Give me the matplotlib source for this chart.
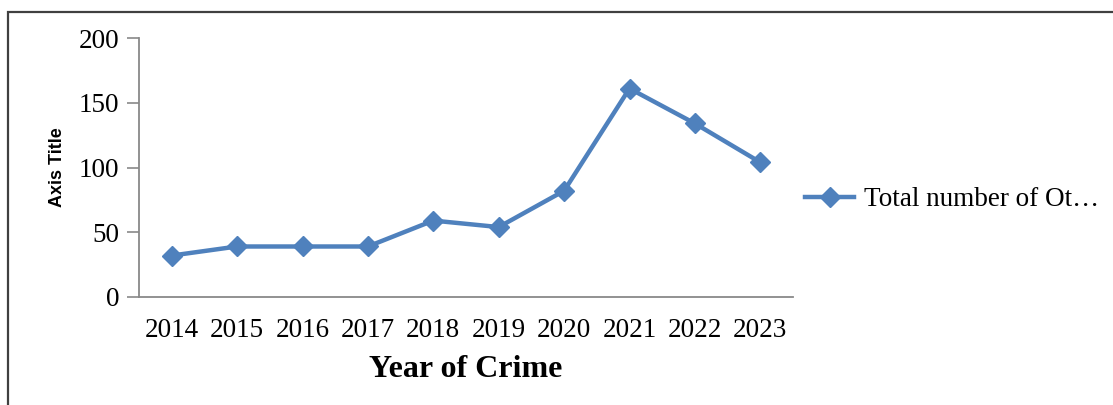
import matplotlib.pyplot as plt
from matplotlib.patches import Rectangle

years = ['2014', '2015', '2016', '2017', '2018', '2019', '2020', '2021', '2022', '2023']
totals = [32, 39, 39, 39, 59, 54, 82, 161, 134, 104]
series_name = 'Total number of Ot\u2026'
yticks = [0, 50, 100, 150, 200]

blue = '#4F81BD'
grey = '#898989'
serif = ['Liberation Serif', 'DejaVu Serif']

fig = plt.figure(figsize=(11.13, 4.05), dpi=100)
ax = fig.add_axes([139 / 1113, 1 - 297 / 405, 654 / 1113, 259 / 405])

x = list(range(len(years)))
ax.plot(x, totals, color=blue, lw=3.2, marker='D', ms=10.5,
        markerfacecolor=blue, markeredgecolor=blue)

ax.set_xlim(-0.5, len(years) - 0.5)
ax.set_ylim(0, 200)
ax.set_xticks(x)
ax.set_xticklabels(years, family=serif, fontsize=19.5)
ax.set_yticks(yticks)
ax.set_yticklabels([str(v) for v in yticks], family=serif, fontsize=19.5)
ax.tick_params(axis='x', length=0, pad=15)
ax.tick_params(axis='y', length=9, width=1.2, color=grey, pad=5)

for s in ['top', 'right']:
    ax.spines[s].set_visible(False)
for s in ['left', 'bottom']:
    ax.spines[s].set_color(grey)
    ax.spines[s].set_linewidth(1.3)

ax.set_xlabel('Year of Crime', family=serif, fontsize=23, fontweight='bold', labelpad=9)
ax.set_ylabel('Axis Title', family=['Liberation Sans Narrow', 'Liberation Sans', 'DejaVu Sans'],
              fontsize=13, fontweight='bold')
ax.yaxis.set_label_coords(-0.112, 0.5)

# legend on the right
fig.legend([plt.Line2D([], [], color=blue, lw=3.2, marker='D', ms=10.5)], [series_name],
           loc='center left', bbox_to_anchor=(781 / 1113, 1 - 200 / 405),
           frameon=False, handlelength=1.8, handletextpad=0.35,
           prop={'family': serif, 'size': 19.5})

# outer border
fig.patches.append(Rectangle((8 / 1113, -0.1), 1.2, 1 - 12 / 405 + 0.1,
                             transform=fig.transFigure, fill=False,
                             edgecolor='#404040', lw=1.6))

fig.savefig('out.png', dpi=100)
